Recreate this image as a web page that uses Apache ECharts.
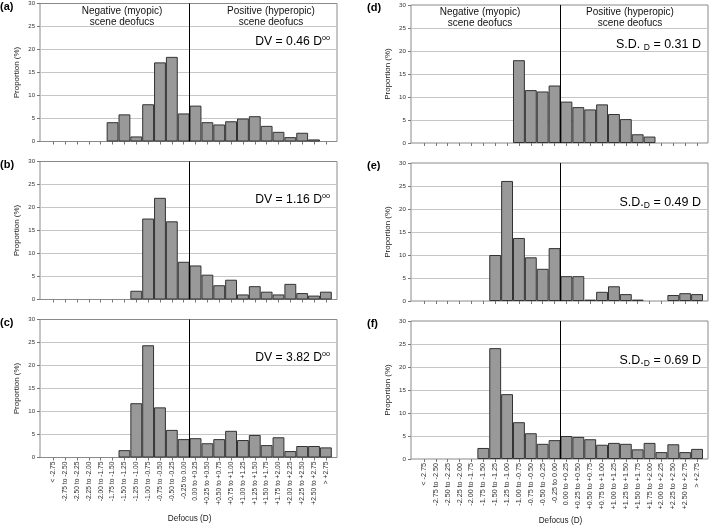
<!DOCTYPE html>
<html><head><meta charset="utf-8">
<script src="https://cdn.jsdelivr.net/npm/echarts@6/dist/echarts.min.js"></script>
<style>html,body{margin:0;padding:0;background:#fff}#c{width:709px;height:526px}</style>
</head><body><div id="c"></div>
<script>
// ---------- data ----------
const categories = ['< -2.75','-2.75 to -2.50','-2.50 to -2.25','-2.25 to -2.00','-2.00 to -1.75','-1.75 to -1.50',
  '-1.50 to -1.25','-1.25 to -1.00','-1.00 to -0.75','-0.75 to -0.50','-0.50 to -0.25','-0.25 to 0.00',
  '0.00 to +0.25','+0.25 to +0.50','+0.50 to +0.75','+0.75 to +1.00','+1.00 to +1.25','+1.25 to +1.50',
  '+1.50 to +1.75','+1.75 to +2.00','+2.00 to +2.25','+2.25 to +2.50','+2.50 to +2.75','> +2.75'];
const yMin = 0, yMax = 30, yStep = 5;
const panelA = [0,0,0,0,0,4.2,5.9,1.1,8.1,17.2,18.4,6.1,7.8,4.2,3.7,4.4,5.0,5.5,3.4,2.1,0.95,1.9,0.45,0];
const panelB = [0,0,0,0,0,0,0,1.9,17.6,22.1,17.0,8.2,7.4,5.4,3.1,4.3,1.1,2.9,1.7,1.1,3.4,1.4,0.85,1.7];
const panelC = [0,0,0,0,0,0,1.6,11.8,24.4,10.9,6.0,4.0,4.2,3.1,4.0,5.8,3.8,4.9,2.7,4.4,1.4,2.5,2.5,2.2];
const panelD = [0,0,0,0,0,0,0,0,18.0,11.5,11.2,12.5,9.0,7.8,7.3,8.4,6.3,5.2,1.9,1.4,0,0,0,0];
const panelE = [0,0,0,0,0,0,10.0,26.1,13.7,9.5,7.0,11.5,5.4,5.4,0.3,2.0,3.2,1.5,0.3,0,0,1.3,1.7,1.5];
const panelF = [0,0,0,0,0,2.4,24.1,14.1,8.0,5.6,3.3,4.1,5.0,4.8,4.3,3.1,3.5,3.3,2.1,3.5,1.5,3.2,1.5,2.2];
const panelLetters = ['(a)','(b)','(c)','(d)','(e)','(f)'];
const dvValues = ['0.46','1.16','3.82'];
const sdValues = ['0.31','0.49','0.69'];
const negHeader = 'Negative (myopic)\nscene deofucs';
const posHeader = 'Positive (hyperopic)\nscene deofucs';
const xTitle = 'Defocus (D)';
const yTitle = 'Proportion (%)';
const dividerIndex = categories.indexOf('0.00 to +0.25');

// ---------- layout ----------
const FONT = '"Liberation Sans", Arial, Helvetica, sans-serif';
const FRAME_W = 297, H = 138;
const cols = [
  {frameLeft:40, dataLeft:47.4, dataWidth:284.4, tops:[3.5,161.5,319.5], letterX:0, yLabelSize:6, xLabelSize:6.7,
   negX:122, posX:271, headTop:5.2, statRight:330, statDy:38.5},
  {frameLeft:411, dataLeft:418, dataWidth:285, tops:[5,163,321], letterX:367, yLabelSize:6.2, xLabelSize:7.2,
   negX:480, posX:630, headTop:6.4, statRight:701, statDy:40}
];
const panels = [
  {col:0,row:0,data:panelA,stat:{kind:'dv',v:dvValues[0]},header:true},
  {col:0,row:1,data:panelB,stat:{kind:'dv',v:dvValues[1]}},
  {col:0,row:2,data:panelC,stat:{kind:'dv',v:dvValues[2]}},
  {col:1,row:0,data:panelD,stat:{kind:'sd',v:sdValues[0],gap:true},header:true},
  {col:1,row:1,data:panelE,stat:{kind:'sd',v:sdValues[1]}},
  {col:1,row:2,data:panelF,stat:{kind:'sd',v:sdValues[2]}}
];

const grid=[], xAxis=[], yAxis=[], series=[], graphic=[];
panels.forEach((p,i)=>{
  const c = cols[p.col]; const top = c.tops[p.row]; const isBottom = p.row===2;
  const gF = grid.length;
  grid.push({left:c.frameLeft, top:top, width:FRAME_W, height:H, show:true, borderColor:'#8a8a8a', borderWidth:1, backgroundColor:'transparent'});
  const gD = grid.length;
  grid.push({left:c.dataLeft, top:top, width:c.dataWidth, height:H});
  xAxis.push({type:'value', gridIndex:gF, show:false, min:0, max:1});
  const xC = xAxis.length;
  xAxis.push({type:'category', gridIndex:gD, data:categories, boundaryGap:true,
    axisLine:{show:false},
    axisTick:{show:true, alignWithLabel:true, length:3, lineStyle:{color:'#777', width:1}},
    axisLabel:{show:isBottom, interval:0, rotate:90, fontSize:c.xLabelSize, color:'#333', margin:4, fontFamily:FONT},
    splitLine:{show:false},
    name: isBottom ? xTitle : '', nameLocation:'middle', nameGap:57.5,
    nameTextStyle:{fontSize:8.2, color:'#222', fontFamily:FONT}});
  const xV = xAxis.length;
  xAxis.push({type:'value', gridIndex:gD, show:false, min:0, max:categories.length});
  yAxis.push({type:'value', gridIndex:gF, min:yMin, max:yMax, interval:yStep,
    axisLine:{show:false},
    axisTick:{show:true, length:3, lineStyle:{color:'#777'}},
    axisLabel:{fontSize:c.yLabelSize, color:'#333', margin:5, fontFamily:FONT},
    splitLine:{show:true, showMinLine:false, showMaxLine:false, lineStyle:{color:'#c6c6c6', width:1}},
    name:yTitle, nameLocation:'middle', nameGap:19,
    nameTextStyle:{fontSize:8, color:'#222', fontFamily:FONT}});
  const yD = yAxis.length;
  yAxis.push({type:'value', gridIndex:gD, min:yMin, max:yMax, show:false});
  series.push({type:'bar', xAxisIndex:xC, yAxisIndex:yD, barCategoryGap:'0%', barGap:'0%',
    data:p.data.map(v=> v===0 ? null : v),
    itemStyle:{color:'#999999', borderColor:'#333333', borderWidth:1},
    emphasis:{disabled:true}, silent:true, z:3});
  series.push({type:'line', xAxisIndex:xV, yAxisIndex:yD, data:[], silent:true, z:5,
    markLine:{silent:true, symbol:['none','none'], label:{show:false},
      lineStyle:{color:'#000', width:1, type:'solid'}, data:[{xAxis:dividerIndex}], animation:false}});

  graphic.push({type:'text', x:c.letterX, y:top+3, style:{text:panelLetters[i], fontSize:11, fontWeight:'bold', fontFamily:FONT, fill:'#000', align:'left', verticalAlign:'middle'}});
  if (p.header) {
    graphic.push({type:'text', x:c.negX, y:c.headTop + (top - c.tops[0]), style:{text:negHeader, fontSize:10, lineHeight:11.2, fontFamily:FONT, fill:'#111', align:'center', verticalAlign:'top'}});
    graphic.push({type:'text', x:c.posX, y:c.headTop + (top - c.tops[0]), style:{text:posHeader, fontSize:10, lineHeight:11.2, fontFamily:FONT, fill:'#111', align:'center', verticalAlign:'top'}});
  }
  let txt, rich;
  if (p.stat.kind==='dv') {
    txt = '{m|DV = ' + p.stat.v + ' D}{s|oo}';
    rich = {m:{fontSize:12.2, fontFamily:FONT, fill:'#000', lineHeight:14}, s:{fontSize:7.2, fontFamily:FONT, fill:'#000', verticalAlign:'top', lineHeight:9}};
  } else {
    txt = '{m|S.D.' + (p.stat.gap ? ' ' : '') + '}{s|D}{m| = ' + p.stat.v + ' D}';
    rich = {m:{fontSize:12.5, fontFamily:FONT, fill:'#000', lineHeight:14}, s:{fontSize:8.5, fontFamily:FONT, fill:'#000', verticalAlign:'bottom', lineHeight:7}};
  }
  graphic.push({type:'text', x:c.statRight, y:top + c.statDy, style:{text:txt, rich:rich, align:'right', verticalAlign:'middle'}});
});

const chart = echarts.init(document.getElementById('c'), null, {renderer:'canvas'});
chart.setOption({animation:false, backgroundColor:'#fff', textStyle:{fontFamily:FONT}, grid, xAxis, yAxis, series, graphic});
</script></body></html>
